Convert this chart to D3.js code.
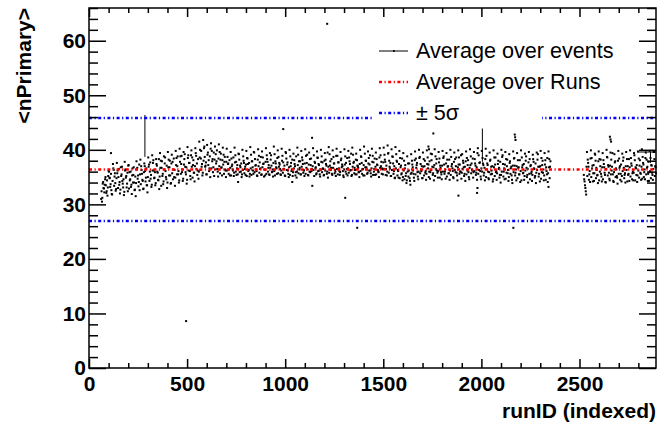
<!DOCTYPE html>
<html><head><meta charset="utf-8">
<script src="https://cdn.jsdelivr.net/npm/d3@7/dist/d3.min.js"></script>
<style>body{margin:0;background:#fff} svg{display:block}</style>
</head><body>
<svg id="c" width="661" height="430"></svg>
<script>
// ---------------- data ----------------
const runStep = 4;
const segAStart = 62, segBStart = 2522;     // sampled runs (sawtooth streaks)
const segA2Start = 64, segB2Start = 2524;   // interleaved runs (dense core)
const valuesA = [
// runs 62-138
31.0,30.5,33.8,33.0,32.2,34.6,33.5,32.4,31.6,35.2,
36.0,34.8,33.7,32.6,31.8,37.4,36.3,35.1,33.9,32.8,
// runs 142-298
37.6,36.2,35.0,33.6,32.0, 36.8,35.5,34.3,33.1,31.7,
37.8,36.4,35.2,33.8,32.4, 37.2,35.9,34.6,33.2,31.9,
36.6,35.4,34.0,32.7,31.5, 37.9,36.7,35.3,34.1,32.6,
38.2,37.0,35.6,34.3,32.9, 37.5,36.1,34.9,33.5,32.2,
// runs 302-458
38.6,37.3,36.0,34.7,33.2, 39.0,37.6,36.2,34.9,33.5,
38.3,37.1,35.8,34.4,32.8, 39.4,38.0,36.7,35.2,33.7,
38.8,37.5,36.1,34.6,33.0, 39.6,38.2,36.8,35.3,33.9,
39.1,37.8,36.4,35.0,33.4, 39.8,38.5,37.0,35.5,34.0,
// runs 462-558
40.2,38.8,37.4,35.9,34.3, 39.6,38.3,36.9,35.5,33.8,
40.5,39.0,37.6,36.1,34.6, 39.9,38.6,37.2,35.8,34.2,
40.3,38.9,37.5,36.2,34.7,
// runs 562-698
41.5,40.0,38.4,36.9,35.3, 41.8,40.3,38.7,37.1,35.5,
40.9,39.5,38.1,36.6,35.0, 41.2,39.8,38.3,36.8,35.2,
40.6,39.2,37.9,36.5,35.1, 41.0,39.6,38.2,36.7,35.3,
40.4,39.1,37.8,36.4,35.0,
// runs 702-1498
40.2,38.7,37.5,36.4,35.3, 39.6,38.4,37.3,36.2,35.2,
40.4,39.0,37.8,36.6,35.5, 39.3,38.2,37.1,36.0,35.0,
40.0,38.8,37.6,36.5,35.4, 39.8,38.5,37.4,36.3,35.1,
40.5,39.1,37.9,36.8,35.6, 39.5,38.3,37.2,36.1,35.2,
40.1,38.9,37.7,36.6,35.4, 39.7,38.6,37.5,36.4,35.3,
40.3,39.0,37.8,36.7,35.5, 39.4,38.2,37.1,36.0,35.1,
40.6,39.2,37.9,36.8,35.6, 39.9,38.7,37.6,36.5,35.4,
40.2,38.9,37.7,36.5,35.3, 39.6,38.4,37.3,36.2,35.0,
40.0,38.8,37.6,36.4,35.2, 39.3,38.1,37.0,35.9,34.9,
40.4,39.1,37.9,36.7,35.5, 39.8,38.6,37.4,36.3,35.2,
40.1,38.9,37.6,36.4,35.3, 39.5,38.3,37.2,36.1,33.4,
40.3,39.0,37.8,36.6,35.5, 39.7,38.5,37.4,36.2,35.1,
40.0,38.8,37.7,36.5,35.4, 39.4,38.2,37.1,36.0,34.9,
40.5,39.2,37.9,36.7,35.6, 39.9,38.7,37.5,36.3,35.2,
40.2,38.9,37.7,36.6,35.4, 39.6,38.4,37.3,36.1,35.0,
40.1,38.8,37.6,36.5,35.3, 39.8,38.6,37.4,36.3,35.2,
40.4,39.1,37.8,36.7,35.5, 39.3,38.1,37.0,35.9,35.0,
40.0,38.8,37.6,36.4,35.3, 40.6,39.3,38.0,36.8,35.6,
39.7,38.5,37.3,36.2,35.1, 40.2,38.9,37.7,36.5,35.4,
39.5,38.3,37.2,36.0,35.0, 40.3,39.0,37.8,36.6,35.5,
// runs 1502-1638
40.4,39.1,37.8,36.5,35.3, 40.8,39.4,38.0,36.6,35.2,
40.1,38.8,37.5,36.1,34.8, 40.5,39.2,37.8,36.3,34.9,
39.8,38.5,37.1,35.7,34.4, 39.4,38.0,36.6,35.2,33.9,
38.8,37.5,36.2,34.8,33.6,
// runs 1642-1998
39.2,38.0,36.8,35.6,34.3, 39.7,38.4,37.2,35.9,34.6,
40.0,38.7,37.4,36.1,34.8, 39.5,38.3,37.0,35.8,34.5,
39.9,38.6,37.3,36.0,34.7, 39.3,38.1,36.9,35.7,34.4,
40.1,38.8,37.5,36.2,34.9, 39.6,38.4,37.1,35.9,34.6,
39.8,38.5,37.3,36.0,34.7, 39.4,38.2,37.0,35.7,34.5,
40.0,38.7,37.4,36.1,34.8, 39.5,38.3,37.0,35.8,34.4,
39.9,38.6,37.3,36.0,34.7, 39.2,38.0,36.8,35.6,34.3,
39.7,38.5,37.2,35.9,34.6, 40.1,38.8,37.5,36.2,34.9,
39.6,38.3,37.1,35.8,34.5, 40.3,39.0,37.6,36.1,34.6,
// runs 2002-2350
39.8,38.5,37.2,35.8,34.4, 40.2,38.9,37.5,36.0,34.6,
39.5,38.2,36.9,35.6,34.2, 39.9,38.6,37.3,35.9,34.5,
39.3,38.0,36.7,35.4,34.0, 40.0,38.7,37.4,36.0,34.6,
39.6,38.3,37.0,35.7,34.3, 39.2,37.9,36.6,35.3,33.9,
39.7,38.4,37.1,35.8,34.4, 39.4,38.1,36.8,35.5,34.1,
39.9,38.6,37.2,35.8,34.5, 39.3,38.0,36.7,35.4,34.0,
39.6,38.3,37.0,35.7,34.3, 39.1,37.8,36.5,35.2,33.9,
39.5,38.2,36.9,35.6,34.2, 39.8,38.5,37.2,35.8,34.4,
39.4,38.1,36.8,35.5,34.1, 39.7,38.3,36.9
];
const valuesA2 = [
// runs 64-140
32.4,31.2,34.1,32.9,33.6,35.0,32.1,34.4,33.1,36.1,
34.9,33.2,35.6,31.9,34.3,36.6,33.4,35.7,32.5,34.8,
// runs 144-300
35.7,33.0,36.5,34.1,32.7,35.2,36.9,33.8,34.6,32.3,
36.2,34.9,33.1,35.8,37.1,32.9,34.4,36.0,33.6,35.3,
34.0,36.8,32.6,35.1,33.9,36.4,34.7,33.3,37.3,35.5,
33.7,36.3,34.5,32.8,35.9,37.0,34.2,36.6,33.5,35.0,
// runs 304-460
36.9,34.3,37.7,35.4,33.6,36.2,38.1,34.8,35.9,33.9,
37.4,36.0,34.5,38.3,35.1,36.7,33.4,37.9,35.6,34.2,
36.4,38.6,35.0,37.1,34.0,36.8,35.3,38.0,33.8,37.5,
35.7,34.6,38.4,36.3,34.9,37.2,35.5,38.8,36.1,34.4,
// runs 464-560
37.8,35.6,38.9,36.4,34.7,37.3,39.2,35.9,36.8,34.5,
38.5,36.2,37.6,35.2,39.0,36.9,34.9,38.1,35.8,37.0,
39.4,36.5,35.4,38.3,36.0,
// runs 564-700
38.6,36.3,39.8,37.4,35.8,38.0,40.6,36.9,37.7,35.5,
39.1,37.2,36.1,38.8,40.2,36.6,37.9,35.9,39.5,38.2,
36.4,37.5,39.9,36.0,38.4,37.0,35.7,39.3,36.8,38.1,
37.3,35.6,38.7,36.2,37.8,
// runs 704-1500
36.2,37.4,35.6,38.1,36.7,35.3,37.0,36.4,38.6,35.8,
37.7,36.0,35.4,37.2,36.5,39.2,35.9,36.8,37.5,35.5,
36.3,38.0,35.7,36.9,37.3,35.2,38.4,36.1,37.6,35.6,
36.6,35.4,37.9,36.2,39.6,35.9,37.1,36.4,35.3,38.2,
37.0,35.8,36.5,38.7,35.5,36.8,37.4,35.1,36.3,37.8,
35.6,38.3,36.0,37.2,35.4,36.7,39.0,35.9,36.4,37.6,
36.1,35.3,37.5,36.6,38.5,35.7,36.9,37.3,35.5,36.2,
38.0,35.8,36.5,37.1,35.2,39.4,36.3,37.7,35.6,36.8,
35.4,37.0,36.1,38.2,35.9,36.6,37.4,35.3,38.8,36.0,
37.2,35.7,36.4,37.9,35.5,36.9,38.1,35.8,36.2,37.5,
35.6,36.7,39.1,35.4,37.3,36.0,35.9,38.4,36.5,37.0,
36.3,35.2,37.6,36.8,35.7,38.6,36.1,37.2,35.5,36.4,
37.8,35.9,36.6,35.3,38.0,36.2,37.4,35.6,39.5,36.9,
35.8,37.1,36.3,38.3,35.4,36.7,37.5,35.7,36.0,38.9,
36.5,35.5,37.7,36.1,35.9,38.1,36.8,37.0,35.3,36.4,
37.3,36.0,35.6,38.5,36.6,35.8,37.9,36.2,39.3,35.4,
36.9,37.6,35.7,36.3,38.2,35.5,37.1,36.7,35.9,37.4,
36.1,38.7,35.6,36.5,37.2,35.3,36.8,38.0,36.4,35.8,
37.5,36.2,39.0,35.7,36.6,37.8,35.4,36.0,38.4,36.9,
35.5,37.3,36.3,35.9,38.6,36.7,37.0,35.6,36.4,37.7,
// runs 1504-1640
36.5,38.2,35.4,37.1,36.0,39.3,35.8,36.9,37.6,35.2,
36.3,38.7,35.6,37.0,34.9,36.6,38.0,35.3,36.1,37.4,
34.8,36.8,35.5,38.4,35.0,36.2,34.6,37.2,35.7,34.4,
36.0,35.1,37.5,34.3,35.6,
// runs 1644-2000
35.8,37.3,36.2,34.9,38.1,35.5,36.7,37.6,35.1,36.0,
38.5,35.7,36.4,37.0,34.8,36.9,35.3,38.0,36.1,35.6,
37.4,36.6,35.0,37.9,35.9,36.3,39.2,35.4,36.8,37.2,
35.2,36.5,38.3,35.8,36.1,37.7,34.9,36.7,35.5,37.1,
36.0,38.8,35.6,36.4,37.5,35.1,36.9,35.7,38.2,36.2,
35.4,37.0,36.6,35.0,37.8,36.3,35.9,38.6,35.3,36.8,
37.3,35.6,36.0,39.0,35.8,36.5,37.6,35.2,36.9,37.9,
35.5,36.2,38.1,35.0,36.7,37.2,35.7,36.4,38.4,35.9,
36.1,37.5,35.4,36.8,39.4,35.6,36.3,37.7,35.1,36.6,
// runs 2004-2352
36.0,37.5,35.3,36.7,38.3,35.0,36.4,37.2,34.8,35.9,
38.0,35.5,36.2,37.0,34.6,36.8,35.2,38.6,36.1,35.7,
37.4,36.5,34.9,37.8,35.4,36.0,39.0,35.1,36.6,37.3,
34.7,35.8,38.2,36.3,35.0,37.6,35.6,36.9,34.5,37.1,
35.9,38.5,35.3,36.4,37.0,34.8,36.7,35.5,38.1,36.1,
34.4,36.8,35.7,37.4,35.2,36.2,38.8,35.0,36.5,37.7,
35.6,34.6,37.2,36.0,35.4,38.3,36.6,34.9,37.5,35.8,
36.3,39.2,35.1,36.9,37.0,34.7,35.9,38.0,36.4,35.3,
37.3,34.5,36.1,38.5,35.7,36.8,34.8,37.9
];
const valuesB = [
// runs 2522-2890
35.4,34.2,33.0,31.8,
39.6,38.2,36.9,35.5,34.1, 39.9,38.5,37.1,35.7,34.3,
39.3,38.0,36.7,35.3,33.9, 39.7,38.3,37.0,35.6,34.2,
39.4,38.1,36.8,35.4,34.0, 40.0,38.6,37.2,35.8,34.4,
39.5,38.2,36.9,35.5,34.1, 39.2,37.9,36.6,35.2,33.8,
39.8,38.4,37.0,35.6,34.2, 39.3,38.0,36.7,35.4,34.0,
39.6,38.3,37.0,35.6,34.3, 39.9,38.5,37.1,35.7,34.4,
39.4,38.1,36.8,35.4,34.1, 39.7,38.4,37.1,35.8,34.5,
40.1,38.7,37.3,35.9,34.6, 39.5,38.2,36.9,35.6,34.3,
39.8,38.5,37.2,35.8,34.5, 39.6,38.3,37.0,35.7
];
const valuesB2 = [
// runs 2524-2888
34.6,33.5,32.4,36.9,35.2,37.6,34.5,36.1,38.4,35.0,
36.6,34.2,37.2,35.7,39.1,34.8,36.3,35.4,37.9,34.4,
36.0,38.2,35.1,36.8,34.6,37.4,35.8,34.1,36.5,38.7,
35.3,36.9,34.7,37.1,35.5,36.2,39.4,34.3,35.9,37.7,
35.0,36.4,34.9,38.0,35.6,36.7,34.5,37.3,35.2,36.1,
38.6,34.8,35.7,37.0,36.3,34.2,35.4,38.3,36.8,35.1,
37.5,34.6,36.0,35.8,39.0,34.4,36.6,37.2,35.3,36.2,
34.9,38.1,35.6,36.9,34.7,37.6,35.0,36.4,38.5,35.5,
36.7,34.3,37.8,35.9,36.1,34.8,37.1,35.4,36.5,39.6,
35.2,36.8
];
const outlierRuns   = [112, 495, 760, 990, 1036, 1137, 1214, 1306, 1367, 1730, 1733, 1755, 1883, 1978, 1980, 2163, 2170, 2172, 2174, 2342, 2655, 2658, 2661];
const outlierValues = [39.4, 8.6, 34.1, 43.8, 34.1, 42.2, 63.1, 31.2, 25.7, 40.6, 40.1, 43.0, 31.6, 32.1, 33.0, 25.7, 42.8, 42.3, 41.8, 33.2, 42.4, 41.9, 41.5];
const errRuns   = [285, 2005, 2862];
const errValues = [42.8, 40.8, 39.6];
const errLow    = [38.7, 37.8, 37.6];
const errHigh   = [46.4, 43.9, 39.6];
const errXRun   = [2862];
const errXValue = [39.6];
const errXLow   = [2795];
const errXHigh  = [2890];
const meanValue = 36.4, sigmaValue = 1.89;
const xTicks = [0, 500, 1000, 1500, 2000, 2500];
const yTicks = [0, 10, 20, 30, 40, 50, 60];
const legendLabels = ["Average over events", "Average over Runs", "\u00b1 5\u03c3"];

// ---------------- drawing ----------------
const svg = d3.select("#c");
const L = 89, R = 656, T = 8, B = 368;
const x = d3.scaleLinear().domain([0, 2890]).range([L, R]);
const y = d3.scaleLinear().domain([0, 66]).range([B, T]);
const FONT = "'Liberation Sans', Arial, Helvetica, sans-serif";

const pts = [];
valuesA.forEach((v, i) => pts.push([segAStart + i * runStep, v]));
valuesA2.forEach((v, i) => pts.push([segA2Start + i * runStep, v]));
valuesB.forEach((v, i) => pts.push([segBStart + i * runStep, v]));
valuesB2.forEach((v, i) => pts.push([segB2Start + i * runStep, v]));
outlierRuns.forEach((r, i) => pts.push([r, outlierValues[i]]));

const plot = svg.append("g");
errRuns.forEach((r, i) => {
  plot.append("line").attr("x1", x(r)).attr("x2", x(r)).attr("y1", y(errLow[i])).attr("y2", y(errHigh[i]))
    .attr("stroke", "#000").attr("stroke-width", 1);
});
errXRun.forEach((r, i) => {
  plot.append("line").attr("x1", x(errXLow[i])).attr("x2", x(errXHigh[i])).attr("y1", y(errXValue[i])).attr("y2", y(errXValue[i]))
    .attr("stroke", "#000").attr("stroke-width", 1);
});
plot.selectAll("rect.p").data(pts).join("rect").attr("class", "p")
  .attr("x", d => x(d[0]) - 1).attr("y", d => y(d[1]) - 1)
  .attr("width", 2).attr("height", 2).attr("fill", "#000");
const dash = "3,2.5,1.2,2.5";
[[meanValue + 5 * sigmaValue, "#0000ff"], [meanValue - 5 * sigmaValue, "#0000ff"], [meanValue, "#ff0000"]].forEach(([v, c]) => {
  plot.append("line").attr("x1", L).attr("x2", R).attr("y1", y(v)).attr("y2", y(v))
    .attr("stroke", c).attr("stroke-width", 2.5).attr("stroke-dasharray", dash);
});

// legend (white box hides lines)
const lg = svg.append("g");
lg.append("rect").attr("x", 373).attr("y", 32).attr("width", 169).attr("height", 92).attr("fill", "#fff");
const rowsY = [51, 82, 113];
lg.append("line").attr("x1", 379).attr("x2", 408).attr("y1", rowsY[0]).attr("y2", rowsY[0]).attr("stroke", "#000").attr("stroke-width", 1);
lg.append("rect").attr("x", 393).attr("y", rowsY[0] - 0.9).attr("width", 1.8).attr("height", 1.8).attr("fill", "#000");
lg.append("line").attr("x1", 379).attr("x2", 408).attr("y1", rowsY[1]).attr("y2", rowsY[1]).attr("stroke", "#ff0000").attr("stroke-width", 2.5).attr("stroke-dasharray", dash);
lg.append("line").attr("x1", 379).attr("x2", 408).attr("y1", rowsY[2]).attr("y2", rowsY[2]).attr("stroke", "#0000ff").attr("stroke-width", 2.5).attr("stroke-dasharray", dash);
legendLabels.forEach((t, i) => {
  lg.append("text").attr("x", 416).attr("y", rowsY[i] + 7).text(t)
    .attr("font-family", FONT).attr("font-size", 21.6).attr("fill", "#000");
});

// axes
function styleAxis(g) {
  g.select(".domain").remove();
  g.selectAll("line").attr("stroke", "#000").attr("stroke-width", 1.5);
  g.selectAll("text").attr("font-family", FONT).attr("font-weight", "bold").attr("font-size", 21).attr("fill", "#000");
}
const xMinor = d3.range(0, 2891, 100).filter(v => v % 500 !== 0);
const yMinor = d3.range(0, 67, 2).filter(v => v % 10 !== 0);
svg.append("g").attr("transform", `translate(0,${B})`)
  .call(d3.axisBottom(x).tickValues(xTicks).tickSize(-9).tickFormat(d3.format("d"))).call(styleAxis)
  .selectAll("text").attr("dy", "0.71em").attr("y", 8);
svg.append("g").attr("transform", `translate(0,${B})`)
  .call(d3.axisBottom(x).tickValues(xMinor).tickSize(-5).tickFormat("")).call(styleAxis);
svg.append("g").attr("transform", `translate(0,${T})`)
  .call(d3.axisTop(x).tickValues(xTicks).tickSize(-9).tickFormat("")).call(styleAxis);
svg.append("g").attr("transform", `translate(0,${T})`)
  .call(d3.axisTop(x).tickValues(xMinor).tickSize(-5).tickFormat("")).call(styleAxis);
svg.append("g").attr("transform", `translate(${L},0)`)
  .call(d3.axisLeft(y).tickValues(yTicks).tickSize(-17).tickFormat(d3.format("d"))).call(styleAxis)
  .selectAll("text").attr("x", -3);
svg.append("g").attr("transform", `translate(${L},0)`)
  .call(d3.axisLeft(y).tickValues(yMinor).tickSize(-9).tickFormat("")).call(styleAxis);
svg.append("g").attr("transform", `translate(${R},0)`)
  .call(d3.axisRight(y).tickValues(yTicks).tickSize(-17).tickFormat("")).call(styleAxis);
svg.append("g").attr("transform", `translate(${R},0)`)
  .call(d3.axisRight(y).tickValues(yMinor).tickSize(-9).tickFormat("")).call(styleAxis);

svg.append("rect").attr("x", L).attr("y", T).attr("width", R - L).attr("height", B - T)
  .attr("fill", "none").attr("stroke", "#000").attr("stroke-width", 1.5);

svg.append("text").attr("x", R).attr("y", 418).attr("text-anchor", "end")
  .attr("font-family", FONT).attr("font-weight", "bold").attr("font-size", 21).text("runID (indexed)");
svg.append("text").attr("transform", `translate(31,${T}) rotate(-90)`).attr("text-anchor", "end")
  .attr("font-family", FONT).attr("font-weight", "bold").attr("font-size", 21).text("<nPrimary>");
</script>
</body></html>
